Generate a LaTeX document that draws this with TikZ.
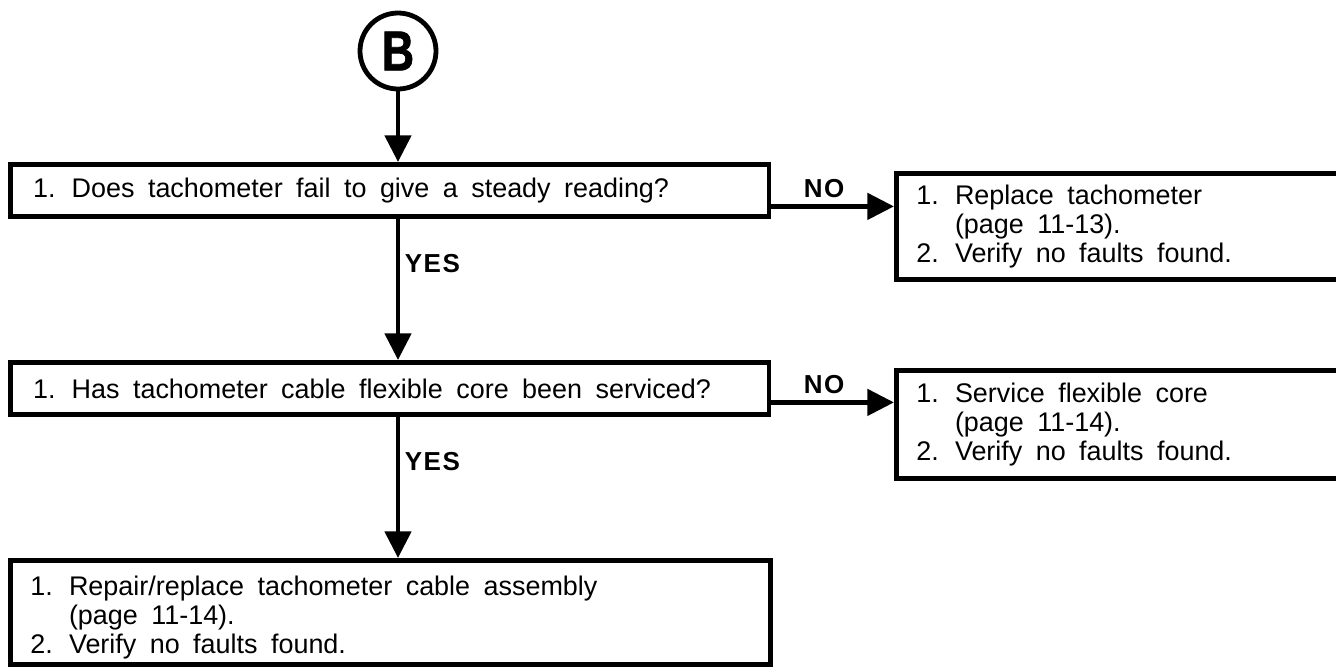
\documentclass[tikz,border=0pt]{standalone}
\usepackage{fontspec}
\setmainfont{Liberation Sans}
\newfontfamily\tagfont{Liberation Sans}[LetterSpace=6]
\newfontfamily\markfont{Liberation Sans Bold}[FakeBold=1.5]
\usetikzlibrary{arrows.meta}
\newcommand\boxfont{\fontsize{20.2}{21.8}\selectfont}
\newcommand\widespace{\spaceskip=0.5em plus 0.1em minus 0.05em\xspaceskip=0.6em\relax}
\newcommand\hang{\hphantom{1. }}
\tikzset{
  connector/.style={circle, draw, line width=3.6pt, minimum size=57pt,
    inner sep=0pt, font=\markfont\fontsize{42}{42}\selectfont},
  query/.style ={rectangle, draw, line width=3.6pt, anchor=north west,
    minimum height=39pt, text width=535pt, inner xsep=17pt,
    align=left, font=\boxfont, execute at begin node=\widespace},
  action/.style={rectangle, draw, line width=3.6pt, anchor=north west,
    text width=400pt, inner xsep=15pt, align=left, font=\boxfont,
    execute at begin node=\widespace},
  flow/.style={line width=3.6pt, -{Triangle[length=20pt, width=19.5pt]}},
  answer/.style={font=\tagfont\bfseries\fontsize{19.5}{20}\selectfont},
}

\begin{document}
\begin{tikzpicture}[x=0.75pt, y=-0.75pt]
  \useasboundingbox (0,0) rectangle (1336,669);
  \clip (0,0) rectangle (1336,669);

  \node[connector] (B) at (398,51) {\scalebox{0.8}[1]{B}};

  \node[query]  (q1) at (8,162) {1. Does tachometer fail to give a steady reading?};
  \node[action, minimum height=79.5pt] (a1) at (894,171)
    {1. Replace tachometer\\ \hang(page 11-13).\\ 2. Verify no faults found.};

  \node[query]  (q2) at (8,360) {1. Has tachometer cable flexible core been serviced?};
  \node[action, minimum height=81pt] (a2) at (894,368)
    {1. Service flexible core\\ \hang(page 11-14).\\ 2. Verify no faults found.};

  \node[action, text width=540pt, minimum height=78pt] (fix) at (8,558)
    {\rule{0pt}{22pt}1. Repair/replace tachometer cable assembly\\ \hang(page 11-14).\\ 2. Verify no faults found.};

  \coordinate (n1) at ([yshift=-12pt]q1.east);
  \coordinate (n2) at ([yshift=-10.5pt]q2.east);

  \draw[flow] (B) -- (B |- q1.north);
  \draw[flow] (n1) -- node[answer, pos=0.43, above=1pt] {NO} (n1 -| a1.west);
  \draw[flow] (B |- q1.south) -- node[answer, pos=0.32, right] {YES} (B |- q2.north);
  \draw[flow] (n2) -- node[answer, pos=0.43, above=1pt] {NO} (n2 -| a2.west);
  \draw[flow] (B |- q2.south) -- node[answer, pos=0.32, right] {YES} (B |- fix.north);

\end{tikzpicture}
\end{document}
